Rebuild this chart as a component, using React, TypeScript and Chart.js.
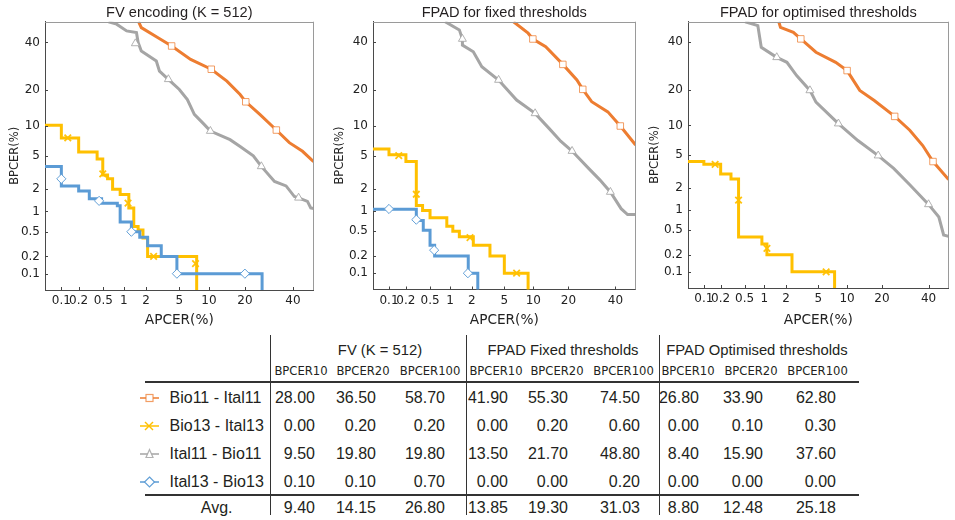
import React, { useEffect, useRef } from 'react';
import { Chart, registerables, LinearScale } from 'chart.js';

Chart.register(...registerables);

// ---------- data ----------
const TICK_VALUES = [0.1, 0.2, 0.5, 1, 2, 5, 10, 20, 40];
const AXIS_MIN = 0.05;
const AXIS_MAX = 50;

const PANEL_TITLES = ['FV encoding (K = 512)', 'FPAD for fixed thresholds', 'FPAD for optimised thresholds'];
const SERIES_NAMES = ['Bio11 - Ital11', 'Bio13 - Ital13', 'Ital11 - Bio11', 'Ital13 - Bio13'];

// Panel 1: FV encoding
const fvBio11Apcer = [1.6, 1.74, 2.8, 4.1, 6.6, 10.5, 14.4, 18.4, 20.3, 25.5, 32.4, 38.3, 44.6, 50];
const fvBio11Bpcer = [50, 47.1, 42.3, 38.3, 32.2, 28, 23.3, 18.6, 16.3, 12.8, 9.2, 6.9, 5.6, 4.3];
const fvBio11MarkApcer = [4.1, 10.5, 20.3, 32.4];
const fvBio11MarkBpcer = [38.3, 28, 16.3, 9.2];
const fvBio13Apcer = [0.04, 0.1, 0.2, 0.4, 0.49, 0.58, 0.69, 0.89, 1.18, 1.38, 1.58, 1.83, 2.1, 7.6];
const fvBio13Bpcer = [10.2, 7.7, 5.5, 4.6, 3.0, 2.7, 2.0, 1.7, 1.12, 0.6, 0.53, 0.4, 0.2, 0.03];
const fvBio13MarkApcer = [0.13, 0.49, 1.15, 2.5, 7.4];
const fvBio13MarkBpcer = [7.7, 3.1, 1.3, 0.2, 0.15];
const fvItal11Apcer = [0.6, 0.79, 1.1, 1.5, 1.58, 1.74, 2.7, 2.95, 3.76, 5.0, 6.1, 7.2, 9.0, 10.3, 15.3, 18.4, 23, 26.1, 31.6, 36.8, 40.7, 42.7, 47, 48.6, 50];
const fvItal11Bpcer = [50, 48.8, 45.5, 44.7, 39.9, 36, 31.5, 27.2, 24, 20.3, 17, 12.8, 10.4, 9, 7.4, 6.3, 5, 3.8, 2.5, 2.2, 1.6, 1.54, 1.38, 1.12, 1.1];
const fvItal11MarkApcer = [1.45, 3.76, 10.3, 26.1, 42.7];
const fvItal11MarkBpcer = [39.5, 24, 9, 3.8, 1.54];
const fvItal13Apcer = [0.04, 0.1, 0.2, 0.3, 0.47, 0.81, 0.89, 1.28, 1.66, 2.1, 3.1, 4.7, 26.4];
const fvItal13Bpcer = [3.8, 2.2, 1.9, 1.5, 1.3, 1.2, 0.7, 0.5, 0.41, 0.3, 0.2, 0.1, 0.03];
const fvItal13MarkApcer = [0.1, 0.43, 1.28, 4.7, 20];
const fvItal13MarkBpcer = [2.7, 1.4, 0.5, 0.1, 0.1];

// Panel 2: FPAD fixed thresholds
const fxBio11Apcer = [6.3, 8.9, 9.9, 13, 18.1, 23.1, 25.4, 29.1, 36.4, 42.4, 50];
const fxBio11Bpcer = [50, 44.4, 41.6, 37.9, 30, 23.7, 20.3, 16.3, 13.4, 10, 6.5];
const fxBio11MarkApcer = [9.9, 18.1, 25.4, 42.4];
const fxBio11MarkBpcer = [41.6, 30, 20.3, 10];
const fxBio13Apcer = [0.04, 0.1, 0.2, 0.3, 0.38, 0.5, 0.9, 1.1, 1.36, 2.1, 3.4, 5, 8.9];
const fxBio13Bpcer = [5.9, 5.1, 4.3, 1.2, 1.02, 0.8, 0.6, 0.5, 0.41, 0.3, 0.2, 0.1, 0.03];
const fxBio13MarkApcer = [0.15, 0.3, 1.9, 6.8];
const fxBio13MarkBpcer = [5.0, 1.7, 0.4, 0.1];
const fxItal11Apcer = [0.85, 1.36, 1.5, 1.5, 2.1, 2.7, 4.3, 6.8, 10.4, 13.9, 17.4, 21.3, 27.7, 32.7, 37.6, 42.8, 46, 50];
const fxItal11Bpcer = [50, 46, 41.6, 38.7, 35.6, 29, 23.7, 16.8, 13, 9.5, 7.1, 5.6, 3.6, 2.6, 1.82, 1.08, 0.89, 0.89];
const fxItal11MarkApcer = [1.5, 4.3, 10.4, 21.3, 37.6];
const fxItal11MarkBpcer = [41.6, 23.7, 13, 5.6, 1.82];
const fxItal13Apcer = [0.04, 0.3, 0.39, 0.5, 0.59, 1.8, 2.4];
const fxItal13Bpcer = [1.06, 0.73, 0.52, 0.3, 0.2, 0.1, 0.03];
const fxItal13MarkApcer = [0.1, 0.3, 0.58, 1.78];
const fxItal13MarkBpcer = [1.07, 0.75, 0.25, 0.1];

// Panel 3: FPAD optimised thresholds
const opBio11Apcer = [1.6, 1.69, 2.5, 3.1, 4.7, 7.7, 10, 13.1, 17.4, 24.8, 31.2, 37.2, 42.2, 50];
const opBio11Bpcer = [50, 47.2, 44.8, 41.6, 35.3, 30.8, 27.3, 19.8, 16.5, 12.1, 9, 6.3, 4.2, 2.55];
const opBio11MarkApcer = [3.1, 10, 24.8, 42.2];
const opBio11MarkBpcer = [41.6, 27.3, 12.1, 4.2];
const opBio13Apcer = [0.04, 0.1, 0.2, 0.3, 0.4, 0.92, 1.09, 2.4, 7.5];
const opBio13Bpcer = [4.2, 3.9, 3.0, 2.6, 0.39, 0.3, 0.2, 0.1, 0.03];
const opBio13MarkApcer = [0.16, 0.4, 1.09, 6.1];
const opBio13MarkBpcer = [3.9, 1.37, 0.255, 0.1];
const opItal11Apcer = [0.51, 0.8, 0.9, 1.5, 2.06, 2.75, 4, 4.7, 8.2, 12.6, 18.7, 24.4, 31.2, 40, 45.1, 47.5, 50];
const opItal11Bpcer = [50, 48.1, 37.6, 33, 30.8, 25.3, 19.8, 16, 10.4, 7.1, 4.9, 3.5, 2.2, 1.2, 0.79, 0.42, 0.4];
const opItal11MarkApcer = [1.5, 4, 8.2, 18.7, 40];
const opItal11MarkBpcer = [33, 19.8, 10.4, 4.9, 1.2];

// Table
const SUB_HEADERS = ['BPCER10', 'BPCER20', 'BPCER100'];
const GROUP_TITLES = ['FV (K = 512)', 'FPAD Fixed thresholds', 'FPAD Optimised thresholds'];
const fvTable = [[28.0, 36.5, 58.7], [0.0, 0.2, 0.2], [9.5, 19.8, 19.8], [0.1, 0.1, 0.7]];
const fixedTable = [[41.9, 55.3, 74.5], [0.0, 0.2, 0.6], [13.5, 21.7, 48.8], [0.0, 0.0, 0.2]];
const optTable = [[26.8, 33.9, 62.8], [0.0, 0.1, 0.3], [8.4, 15.9, 37.6], [0.0, 0.0, 0.0]];
const avgRow = [[9.4, 14.15, 26.8], [13.85, 19.3, 31.03], [8.8, 12.48, 25.18]];

// ---------- styles ----------
const COLORS = ['#ED7D31', '#FFC000', '#A5A5A5', '#5B9BD5'];
const MARKER_COLORS = ['rgba(237,125,49,0.75)', 'rgba(255,192,0,0.95)', 'rgba(165,165,165,0.85)', 'rgba(91,155,213,0.95)'];
const POINT_STYLES = ['rect', 'crossRot', 'triangle', 'rectRot'];
const STEPPED = [false, true, false, true];
const TEXT = '#231f20';
const SANS = "'Liberation Sans', Arial, sans-serif";
const DEJAVU = "'DejaVu Sans', Verdana, sans-serif";

// ---------- probit (normal deviate) scale ----------
function normInv(p: number): number {
  const a = [-39.69683028665376, 220.9460984245205, -275.9285104469687, 138.357751867269, -30.66479806614716, 2.506628277459239];
  const b = [-54.47609879822406, 161.5858368580409, -155.6989798598866, 66.80131188771972, -13.28068155288572];
  const c = [-0.007784894002430293, -0.3223964580411365, -2.400758277161838, -2.549732539343734, 4.374664141464968, 2.938163982698783];
  const d = [0.007784695709041462, 0.3224671290700398, 2.445134137142996, 3.754408661907416];
  if (p <= 0) return -8;
  if (p >= 1) return 8;
  const pl = 0.02425;
  if (p < pl) {
    const q = Math.sqrt(-2 * Math.log(p));
    return (((((c[0] * q + c[1]) * q + c[2]) * q + c[3]) * q + c[4]) * q + c[5]) / ((((d[0] * q + d[1]) * q + d[2]) * q + d[3]) * q + 1);
  }
  if (p <= 1 - pl) {
    const q = p - 0.5;
    const r = q * q;
    return ((((((a[0] * r + a[1]) * r + a[2]) * r + a[3]) * r + a[4]) * r + a[5]) * q) / (((((b[0] * r + b[1]) * r + b[2]) * r + b[3]) * r + b[4]) * r + 1);
  }
  const q = Math.sqrt(-2 * Math.log(1 - p));
  return -(((((c[0] * q + c[1]) * q + c[2]) * q + c[3]) * q + c[4]) * q + c[5]) / ((((d[0] * q + d[1]) * q + d[2]) * q + d[3]) * q + 1);
}
function normCdf(z: number): number {
  const t = 1 / (1 + 0.3275911 * Math.abs(z) / Math.SQRT2);
  const y = 1 - (((((1.061405429 * t - 1.453152027) * t) + 1.421413741) * t - 0.284496736) * t + 0.254829592) * t * Math.exp(-z * z / 2);
  return 0.5 * (1 + (z >= 0 ? y : -y));
}

class ProbitScale extends (LinearScale as any) {
  static id = 'probit';
  static defaults = {};
  determineDataLimits() {
    this.min = this.options.min;
    this.max = this.options.max;
  }
  buildTicks() {
    return TICK_VALUES.map((v) => ({ value: v }));
  }
  getPixelForValue(value: number) {
    if (value === null || value === undefined) return NaN;
    const lo = normInv(this.min / 100);
    const hi = normInv(this.max / 100);
    return this.getPixelForDecimal((normInv(value / 100) - lo) / (hi - lo));
  }
  getValueForPixel(pixel: number) {
    const lo = normInv(this.min / 100);
    const hi = normInv(this.max / 100);
    const dec = this.getDecimalForPixel(pixel);
    return 100 * normCdf(lo + dec * (hi - lo));
  }
}
Chart.register(ProbitScale as any);

const framePlugin = {
  id: 'frame',
  afterDraw(chart: any) {
    const { ctx, chartArea } = chart;
    const { left, right, top, bottom } = chartArea;
    ctx.save();
    ctx.lineWidth = 1;
    ctx.strokeStyle = '#9a9a9a';
    ctx.beginPath();
    ctx.moveTo(left, Math.round(top) + 0.5);
    ctx.lineTo(right, Math.round(top) + 0.5);
    ctx.moveTo(Math.round(right) - 0.5, top);
    ctx.lineTo(Math.round(right) - 0.5, bottom);
    ctx.stroke();
    ctx.strokeStyle = '#444';
    ctx.beginPath();
    const xs = chart.scales.x;
    const ys = chart.scales.y;
    xs.ticks.forEach((t: any) => {
      const px = Math.round(xs.getPixelForValue(t.value)) + 0.5;
      ctx.moveTo(px, bottom);
      ctx.lineTo(px, bottom - 3);
    });
    ys.ticks.forEach((t: any) => {
      const py = Math.round(ys.getPixelForValue(t.value)) + 0.5;
      ctx.moveTo(left, py);
      ctx.lineTo(left + 3, py);
    });
    ctx.stroke();
    ctx.restore();
  },
};

type Series = { a: number[]; b: number[]; ma: number[]; mb: number[]; idx: number };

const PANELS: { series: Series[] }[] = [
  {
    series: [
      { a: fvBio11Apcer, b: fvBio11Bpcer, ma: fvBio11MarkApcer, mb: fvBio11MarkBpcer, idx: 0 },
      { a: fvItal11Apcer, b: fvItal11Bpcer, ma: fvItal11MarkApcer, mb: fvItal11MarkBpcer, idx: 2 },
      { a: fvItal13Apcer, b: fvItal13Bpcer, ma: fvItal13MarkApcer, mb: fvItal13MarkBpcer, idx: 3 },
      { a: fvBio13Apcer, b: fvBio13Bpcer, ma: fvBio13MarkApcer, mb: fvBio13MarkBpcer, idx: 1 },
    ],
  },
  {
    series: [
      { a: fxBio11Apcer, b: fxBio11Bpcer, ma: fxBio11MarkApcer, mb: fxBio11MarkBpcer, idx: 0 },
      { a: fxItal11Apcer, b: fxItal11Bpcer, ma: fxItal11MarkApcer, mb: fxItal11MarkBpcer, idx: 2 },
      { a: fxItal13Apcer, b: fxItal13Bpcer, ma: fxItal13MarkApcer, mb: fxItal13MarkBpcer, idx: 3 },
      { a: fxBio13Apcer, b: fxBio13Bpcer, ma: fxBio13MarkApcer, mb: fxBio13MarkBpcer, idx: 1 },
    ],
  },
  {
    series: [
      { a: opBio11Apcer, b: opBio11Bpcer, ma: opBio11MarkApcer, mb: opBio11MarkBpcer, idx: 0 },
      { a: opItal11Apcer, b: opItal11Bpcer, ma: opItal11MarkApcer, mb: opItal11MarkBpcer, idx: 2 },
      { a: opBio13Apcer, b: opBio13Bpcer, ma: opBio13MarkApcer, mb: opBio13MarkBpcer, idx: 1 },
    ],
  },
];

// layout per panel
const PANEL_LAYOUT = [
  { left: 0, width: 320, height: 330, yWidth: 45, xHeight: 40, padRight: 2, yTitlePad: 8 },
  { left: 320, width: 322, height: 330, yWidth: 53, xHeight: 40.5, padRight: 0, yTitlePad: 13.5 },
  { left: 640, width: 315, height: 330, yWidth: 48, xHeight: 42, padRight: 0, yTitlePad: 8.5 },
];

function buildConfig(p: number): any {
  const lay = PANEL_LAYOUT[p];
  const datasets: any[] = [];
  PANELS[p].series.forEach((s) => {
    datasets.push({
      label: SERIES_NAMES[s.idx] + ' markers',
      data: s.ma.map((x, i) => ({ x, y: s.mb[i] })),
      showLine: false,
      pointStyle: POINT_STYLES[s.idx],
      pointRadius: s.idx === 1 ? 4.6 : 4.6,
      pointBorderColor: MARKER_COLORS[s.idx],
      pointBackgroundColor: '#ffffff',
      pointBorderWidth: s.idx === 1 ? 1.8 : 1,
      order: 0,
      clip: 6,
    });
  });
  PANELS[p].series.forEach((s, k) => {
    datasets.push({
      label: SERIES_NAMES[s.idx],
      data: s.a.map((x, i) => ({ x, y: s.b[i] })),
      borderColor: COLORS[s.idx],
      backgroundColor: COLORS[s.idx],
      borderWidth: 3,
      pointRadius: 0,
      stepped: STEPPED[s.idx] ? 'before' : false,
      tension: 0,
      fill: false,
      order: 1 + k,
      clip: 0,
      borderJoinStyle: 'miter',
    });
  });
  const tickFont = { family: DEJAVU, size: 12 };
  return {
    type: 'line',
    data: { datasets },
    options: {
      responsive: false,
      animation: false,
      events: [],
      layout: { padding: { left: 0, right: lay.padRight, top: 0, bottom: 0 } },
      plugins: {
        legend: { display: false },
        tooltip: { enabled: false },
        title: {
          display: true,
          text: PANEL_TITLES[p],
          fullSize: false,
          color: TEXT,
          font: { family: SANS, size: 14.6, weight: 'normal', lineHeight: 1.2 },
          padding: { top: 4, bottom: 0.2 },
        },
      },
      scales: {
        x: {
          type: 'probit',
          min: AXIS_MIN,
          max: AXIS_MAX,
          grid: { display: false, drawTicks: false },
          border: { display: true, color: '#4a4a4a', width: 1 },
          ticks: {
            autoSkip: false,
            maxRotation: 0,
            minRotation: 0,
            padding: 4,
            color: '#222',
            font: tickFont,
            callback: (v: number) => String(v),
          },
          title: {
            display: true,
            text: 'APCER(%)',
            color: '#222',
            font: { family: DEJAVU, size: 13.7, lineHeight: 1.2 },
            padding: { top: 0, bottom: 1.6 },
          },
          afterFit: (scale: any) => {
            scale.height = lay.xHeight;
          },
        },
        y: {
          type: 'probit',
          min: AXIS_MIN,
          max: AXIS_MAX,
          grid: { display: false, drawTicks: false },
          border: { display: true, color: '#4a4a4a', width: 1 },
          ticks: {
            autoSkip: false,
            padding: 5,
            color: '#222',
            font: tickFont,
            callback: (v: number) => String(v),
          },
          title: {
            display: true,
            text: 'BPCER(%)',
            color: '#222',
            font: { family: DEJAVU, size: 11.5, lineHeight: 1.2 },
            padding: { top: lay.yTitlePad, bottom: 0 },
          },
          afterFit: (scale: any) => {
            scale.width = lay.yWidth;
          },
        },
      },
    },
    plugins: [framePlugin],
  };
}

function Panel({ index }: { index: number }) {
  const ref = useRef<HTMLCanvasElement>(null);
  const lay = PANEL_LAYOUT[index];
  useEffect(() => {
    const chart = new Chart(ref.current as HTMLCanvasElement, buildConfig(index));
    return () => chart.destroy();
  }, [index]);
  return (
    <canvas
      ref={ref}
      width={lay.width}
      height={lay.height}
      style={{ position: 'absolute', left: lay.left, top: 0, width: lay.width, height: lay.height }}
    />
  );
}

function LegendIcon({ idx }: { idx: number }) {
  const c = COLORS[idx];
  const m = MARKER_COLORS[idx];
  let marker: any = null;
  if (idx === 0) marker = <rect x={6} y={2.5} width={7} height={7} fill="#fff" stroke={m} strokeWidth={1.2} />;
  if (idx === 1)
    marker = (
      <g stroke={c} strokeWidth={1.5}>
        <line x1={5} y1={2} x2={13} y2={10} />
        <line x1={13} y1={2} x2={5} y2={10} />
      </g>
    );
  if (idx === 2) marker = <polygon points="9.5,1.5 13,9.5 6,9.5" fill="#fff" stroke={m} strokeWidth={1.2} />;
  if (idx === 3) marker = <polygon points="9.5,1 14.5,6 9.5,11 4.5,6" fill="#fff" stroke={m} strokeWidth={1.2} />;
  return (
    <svg width={19} height={12} style={{ position: 'absolute', left: 0, top: 0 }}>
      <line x1={0} y1={6} x2={19} y2={6} stroke={c} strokeWidth={1.5} />
      {marker}
    </svg>
  );
}

const GROUP_CENTERS = [380, 563, 757];
const SUB_CENTERS = [[301, 363, 430], [496, 557, 623.5], [688, 751, 817.5]];
const VALUE_RIGHTS = [[315, 376, 445], [508, 568, 640], [699, 763, 836]];
const ROW_Y = [398.3, 426, 454.3, 482.3];
const AVG_Y = 508.3;

function Cell({ x, y, text, align, font, size }: any) {
  const w = 240;
  let left = x - w / 2;
  if (align === 'right') left = x - w;
  if (align === 'left') left = x;
  return (
    <div
      style={{
        position: 'absolute',
        left,
        top: y - 11,
        width: w,
        height: 22,
        lineHeight: '22px',
        textAlign: align,
        fontFamily: font,
        fontSize: size,
        color: TEXT,
        whiteSpace: 'nowrap',
      }}
    >
      {text}
    </div>
  );
}

function Table() {
  const tables = [fvTable, fixedTable, optTable];
  const els: any[] = [];
  GROUP_TITLES.forEach((g, i) =>
    els.push(<Cell key={'g' + i} x={GROUP_CENTERS[i]} y={350} text={g} align="center" font={SANS} size={14.8} />)
  );
  SUB_CENTERS.forEach((row, g) =>
    row.forEach((cx, j) =>
      els.push(<Cell key={'s' + g + j} x={cx} y={371} text={SUB_HEADERS[j]} align="center" font={DEJAVU} size={11.6} />)
    )
  );
  SERIES_NAMES.forEach((name, r) => {
    els.push(
      <div key={'ic' + r} style={{ position: 'absolute', left: 140, top: ROW_Y[r] - 6, width: 19, height: 12 }}>
        <LegendIcon idx={r} />
      </div>
    );
    els.push(<Cell key={'n' + r} x={169.5} y={ROW_Y[r]} text={name} align="left" font={SANS} size={16} />);
    tables.forEach((t, g) =>
      t[r].forEach((v, j) =>
        els.push(
          <Cell key={'v' + r + g + j} x={VALUE_RIGHTS[g][j]} y={ROW_Y[r]} text={v.toFixed(2)} align="right" font={SANS} size={16} />
        )
      )
    );
  });
  els.push(<Cell key="avg" x={216.7} y={AVG_Y} text="Avg." align="center" font={SANS} size={16} />);
  avgRow.forEach((row, g) =>
    row.forEach((v, j) =>
      els.push(<Cell key={'a' + g + j} x={VALUE_RIGHTS[g][j]} y={AVG_Y} text={v.toFixed(2)} align="right" font={SANS} size={16} />)
    )
  );
  const lineStyle = (l: number, t: number, w: number, h: number) => ({
    position: 'absolute' as const,
    left: l,
    top: t,
    width: w,
    height: h,
    background: '#333',
  });
  [270, 466, 659].forEach((x, i) => els.push(<div key={'vl' + i} style={lineStyle(x, 335, 1, 180)} />));
  els.push(<div key="hl1" style={lineStyle(145, 381, 714, 1.5)} />);
  els.push(<div key="hl2" style={lineStyle(145, 494, 714, 1.5)} />);
  return <>{els}</>;
}

export default function App() {
  return (
    <div style={{ position: 'absolute', left: 0, top: 0, width: 955, height: 520, background: '#fff', overflow: 'hidden' }}>
      <Panel index={0} />
      <Panel index={1} />
      <Panel index={2} />
      <Table />
    </div>
  );
}
